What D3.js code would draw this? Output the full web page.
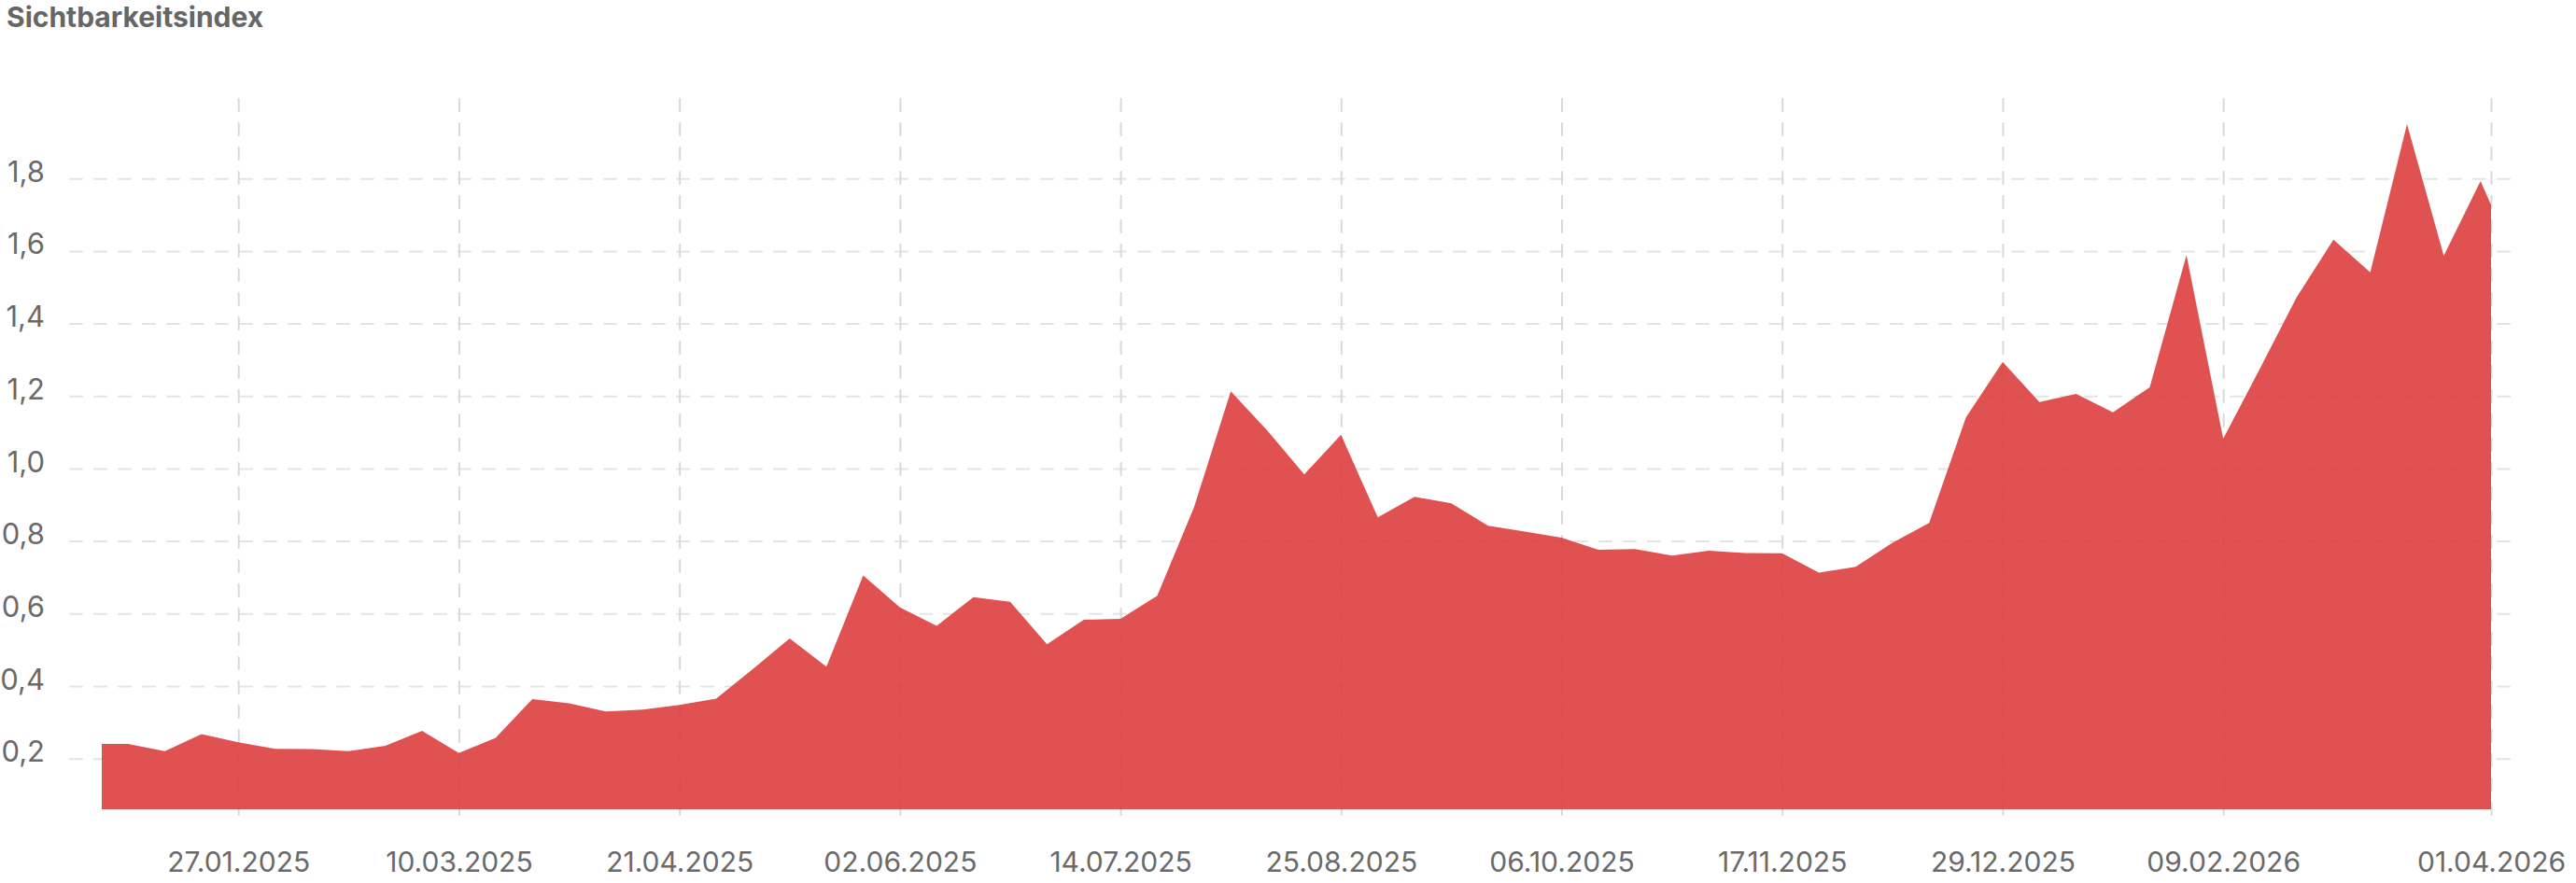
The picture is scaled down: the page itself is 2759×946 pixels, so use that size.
<!DOCTYPE html>
<html>
<head>
<meta charset="utf-8">
<script src="https://cdn.jsdelivr.net/npm/d3@7"></script>
<style>
    body { margin: 0; background: #fff; }
    svg { display: block; font-family: Inter, "Noto Sans", sans-serif; }
</style>
</head>
<body>
<svg id="chart" width="2759" height="946"></svg>
<script>
'use strict'

// weekly values (Sichtbarkeitsindex)
var dates = [
    '01.01.2025', '06.01.2025', '13.01.2025', '20.01.2025', '27.01.2025', '03.02.2025',
    '10.02.2025', '17.02.2025', '24.02.2025', '03.03.2025', '10.03.2025', '17.03.2025',
    '24.03.2025', '31.03.2025', '07.04.2025', '14.04.2025', '21.04.2025', '28.04.2025',
    '05.05.2025', '12.05.2025', '19.05.2025', '26.05.2025', '02.06.2025', '09.06.2025',
    '16.06.2025', '23.06.2025', '30.06.2025', '07.07.2025', '14.07.2025', '21.07.2025',
    '28.07.2025', '04.08.2025', '11.08.2025', '18.08.2025', '25.08.2025', '01.09.2025',
    '08.09.2025', '15.09.2025', '22.09.2025', '29.09.2025', '06.10.2025', '13.10.2025',
    '20.10.2025', '27.10.2025', '03.11.2025', '10.11.2025', '17.11.2025', '24.11.2025',
    '01.12.2025', '08.12.2025', '15.12.2025', '22.12.2025', '29.12.2025', '05.01.2026',
    '12.01.2026', '19.01.2026', '26.01.2026', '02.02.2026', '09.02.2026', '16.02.2026',
    '23.02.2026', '02.03.2026', '09.03.2026', '16.03.2026', '23.03.2026', '30.03.2026',
    '01.04.2026'];

var values = [
    0.240, 0.240, 0.220, 0.267, 0.245, 0.227,
    0.226, 0.220, 0.235, 0.276, 0.215, 0.257,
    0.364, 0.352, 0.330, 0.335, 0.348, 0.365,
    0.447, 0.531, 0.453, 0.705, 0.617, 0.566,
    0.645, 0.632, 0.515, 0.583, 0.585, 0.649,
    0.893, 1.213, 1.104, 0.984, 1.093, 0.865,
    0.922, 0.904, 0.842, 0.826, 0.809, 0.776,
    0.778, 0.760, 0.773, 0.767, 0.766, 0.713,
    0.729, 0.795, 0.850, 1.141, 1.294, 1.183,
    1.206, 1.155, 1.224, 1.589, 1.082, 1.276,
    1.473, 1.631, 1.541, 1.950, 1.587, 1.793,
    1.727];

var xTickLabels = [
    '27.01.2025', '10.03.2025', '21.04.2025', '02.06.2025', '14.07.2025', '25.08.2025',
    '06.10.2025', '17.11.2025', '29.12.2025', '09.02.2026', '01.04.2026'];

var yTicks = [0.2, 0.4, 0.6, 0.8, 1.0, 1.2, 1.4, 1.6, 1.8];

var title = 'Sichtbarkeitsindex';


var parseDate = d3.timeParse('%d.%m.%Y');
var de = d3.formatLocale({decimal: ',', thousands: '.', grouping: [3], currency: ['', ' €']});
var fmt = de.format('.1f');

var data = dates.map(function(d, i){
    return {date: parseDate(d), value: values[i]};
});

var svg = d3.select('#chart');

// plot box
var plotLeft = 109, plotRight = 2668, plotTop = 98, plotBottom = 867;
var gridLeft = 75, gridRight = 2695;

var x = d3.scaleTime()
    .domain(d3.extent(data, function(d){ return d.date; }))
    .range([plotLeft, plotRight]);

var y = d3.scaleLinear()
    .domain([0.06, 2.04])
    .range([plotBottom, plotTop]);


// horizontal grid + labels
var yAxis = svg.append('g')
    .attr('transform', 'translate(' + gridLeft + ',0)')
    .call(d3.axisLeft(y)
        .tickValues(yTicks)
        .tickFormat(fmt)
        .tickSize(-(gridRight - gridLeft))
        .tickPadding(27));

yAxis.select('.domain').remove();
yAxis.selectAll('line')
    .attr('stroke', '#e4e4e4')
    .attr('stroke-width', 2)
    .attr('stroke-dasharray', '13 13')
    .attr('stroke-linecap', 'round');
yAxis.selectAll('text')
    .attr('dy', '0.1em')
    .attr('fill', '#6a6a6a')
    .style('font-size', '31px')
    .style('font-family', 'Inter, "Noto Sans", sans-serif');


// vertical grid + date labels
var xAxis = svg.append('g')
    .attr('transform', 'translate(0,' + (plotBottom + 6) + ')')
    .call(d3.axisBottom(x)
        .tickValues(xTickLabels.map(parseDate))
        .tickFormat(d3.timeFormat('%d.%m.%Y'))
        .tickSize(-(plotBottom + 6 - plotTop)));

xAxis.select('.domain').remove();
xAxis.selectAll('line')
    .attr('stroke', '#d9d9d9')
    .attr('stroke-width', 2)
    .attr('stroke-dasharray', '13 13')
    .attr('stroke-linecap', 'round');
xAxis.selectAll('text')
    .attr('y', 61)
    .attr('dy', 0)
    .attr('fill', '#6a6a6a')
    .style('font-size', '30px')
    .style('font-family', 'Inter, "Noto Sans", sans-serif');


// the area
var area = d3.area()
    .x(function(d){ return x(d.date); })
    .y0(plotBottom)
    .y1(function(d){ return y(d.value); });

svg.append('path')
    .datum(data)
    .attr('d', area)
    .attr('fill', 'rgb(221,63,63)')
    .attr('fill-opacity', 0.9);


// title
svg.append('text')
    .attr('x', 7)
    .attr('y', 29)
    .attr('fill', '#666')
    .style('font-size', '30px')
    .style('font-weight', 700)
    .text(title);

</script>
</body>
</html>
